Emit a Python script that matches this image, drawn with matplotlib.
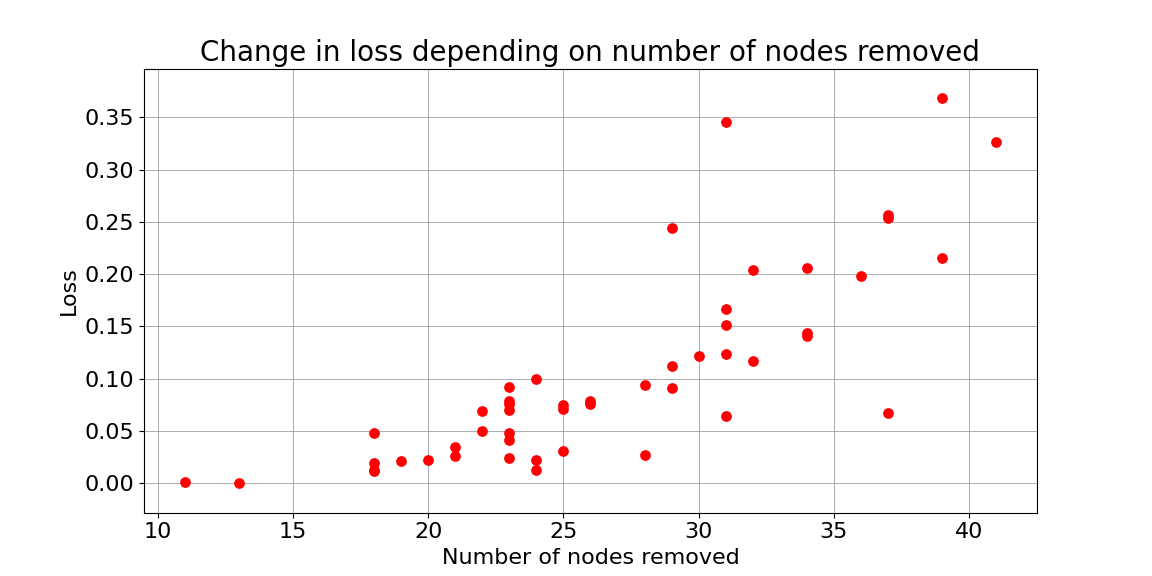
import matplotlib
matplotlib.use("Agg")
import matplotlib.pyplot as plt

nodes_removed = [11, 13, 18, 18, 18, 18, 19, 20, 21, 21, 22, 22,
                 23, 23, 23, 23, 23, 23, 23, 24, 24, 24, 25, 25, 25,
                 26, 26, 28, 28, 29, 29, 29, 30, 31, 31, 31, 31, 31,
                 32, 32, 34, 34, 34, 36, 37, 37, 37, 39, 39, 41]
loss = [0.001, 0.000, 0.048, 0.019, 0.013, 0.012, 0.021, 0.022, 0.035, 0.026, 0.069, 0.050,
        0.092, 0.079, 0.076, 0.070, 0.048, 0.041, 0.024, 0.100, 0.022, 0.013, 0.075, 0.071, 0.031,
        0.079, 0.076, 0.094, 0.027, 0.244, 0.112, 0.091, 0.122, 0.345, 0.167, 0.151, 0.124, 0.064,
        0.204, 0.117, 0.206, 0.144, 0.141, 0.198, 0.257, 0.254, 0.067, 0.368, 0.215, 0.326]

fig, ax = plt.subplots(figsize=(11.52, 5.76), dpi=100)
ax.scatter(nodes_removed, loss, color="red", s=45, zorder=3)
ax.grid(True, color="#a0a0a0", linewidth=0.6)
ax.set_ylim(-0.028, 0.396)
ax.set_xlim(9.5, 42.5)
ax.set_title("Change in loss depending on number of nodes removed", fontsize=20)
ax.set_xlabel("Number of nodes removed", fontsize=16)
ax.set_ylabel("Loss", fontsize=16)
ax.tick_params(labelsize=16)
fig.savefig("out.png")
